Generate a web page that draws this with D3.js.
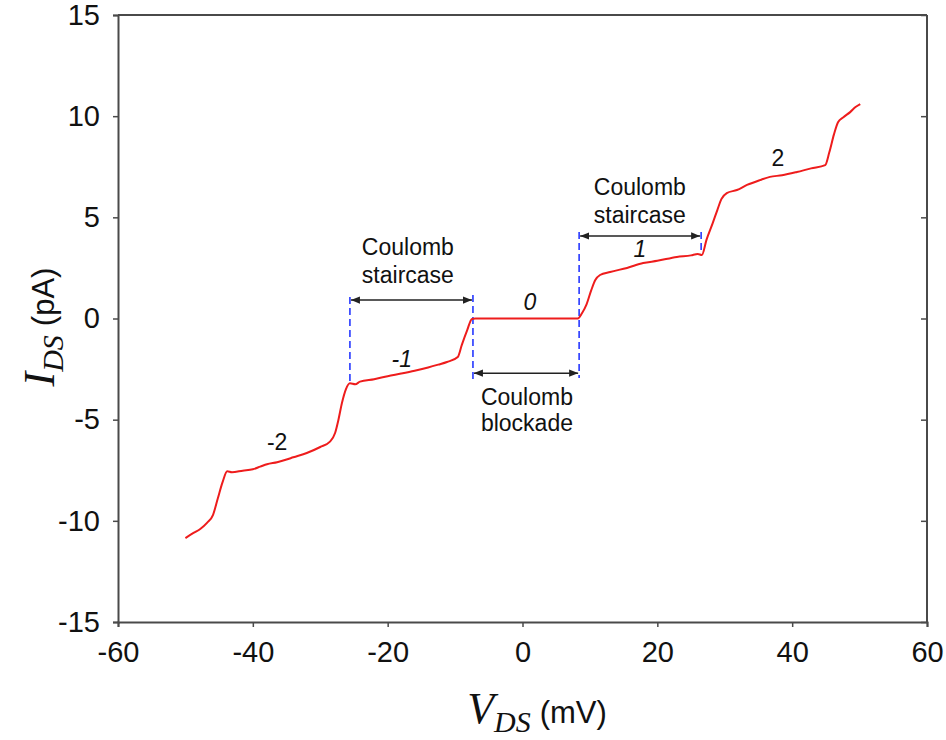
<!DOCTYPE html>
<html>
<head>
<meta charset="utf-8">
<script src="https://cdn.jsdelivr.net/npm/d3@7"></script>
<style>
  body { margin: 0; background: #fff; }
  text { font-family: "Liberation Sans", Arial, sans-serif; fill: #111; }
</style>
</head>
<body>
<div id="chart"></div>
<script>
// I-V curve of the Coulomb staircase
var vds = [-50.0, -48.8, -47.8, -46.8, -45.9, -45.2, -44.5, -43.8, -43.1, -41.5,
  -40.0, -38.9, -37.9, -36.4, -35.0, -34.0, -32.0, -30.0, -28.6, -27.8,
  -27.3, -26.8, -26.2, -25.6, -24.8, -24.1, -22.0, -20.0, -18.0, -16.0,
  -14.0, -12.5, -11.2, -9.6, -9.0, -8.2, -7.5, -7.0, 0.0, 8.2,
  8.8, 9.5, 10.2, 10.8, 11.5, 13.0, 15.5, 17.9, 20.0, 22.9,
  25.0, 26.0, 26.6, 27.3, 28.2, 28.9, 29.5, 30.3, 31.8, 33.3,
  35.2, 36.7, 38.5, 40.7, 42.8, 44.9, 45.5, 46.2, 46.8, 47.6,
  48.6, 49.4, 50.1];
var ids = [-10.85, -10.6, -10.4, -10.1, -9.7, -8.9, -8.1, -7.55, -7.6, -7.52,
  -7.45, -7.32, -7.2, -7.1, -6.97, -6.86, -6.65, -6.35, -6.1, -5.66,
  -5.0, -4.2, -3.5, -3.2, -3.25, -3.12, -3.0, -2.85, -2.72, -2.58,
  -2.42, -2.28, -2.15, -1.9, -1.3, -0.57, -0.02, 0.0, 0.0, 0.0,
  0.25, 0.7, 1.4, 1.9, 2.15, 2.3, 2.5, 2.74, 2.85, 3.04,
  3.12, 3.19, 3.14, 3.9, 4.7, 5.36, 5.9, 6.2, 6.35, 6.6,
  6.84, 7.0, 7.08, 7.24, 7.42, 7.58, 8.2, 9.1, 9.7, 9.95,
  10.2, 10.45, 10.6];

var xTicks = [-60, -40, -20, 0, 20, 40, 60];
var yTicks = [-15, -10, -5, 0, 5, 10, 15];

// dashed markers: x, y from, y to
var markX = [-25.6, -7.35, 8.4, 26.5];
var markY0 = [1.06, 1.16, 4.27, 4.27];
var markY1 = [-3.19, -3.0, -2.94, 3.14];

// double arrows: x from, x to, y
var arrowX0 = [-25.6, -7.35, 8.4];
var arrowX1 = [-7.35, 8.4, 26.5];
var arrowY = [0.91, -2.7, 4.08];

// text labels
var noteText = ["Coulomb", "staircase", "Coulomb", "blockade", "Coulomb", "staircase"];
var noteX = [-17.0, -17.0, 0.66, 0.66, 17.4, 17.4];
var noteY = [3.14, 1.75, -4.28, -5.56, 6.10, 4.72];

var stepText = ["-2", "-1", "0", "1", "2"];
var stepX = [-36.4, -17.9, 1.1, 17.4, 37.9];
var stepY = [-6.5, -2.4, 0.42, 3.04, 7.54];
var stepItalic = [false, true, true, true, false];

var W = 946, H = 740;
var margin = {top: 15, right: 19, bottom: 118, left: 118};
var width = W - margin.left - margin.right,
    height = H - margin.top - margin.bottom;

var svg = d3.select("#chart").append("svg")
  .attr("width", W)
  .attr("height", H);

var g = svg.append("g")
  .attr("transform", "translate(" + margin.left + "," + margin.top + ")");

var x = d3.scaleLinear().domain([-60, 60]).range([0, width]);
var y = d3.scaleLinear().domain([-15, 15]).range([height, 0]);

var axisColor = "#4a4a4a";
var plain = function(d) { return String(d); };

// axes
var xAxis = g.append("g")
  .attr("transform", "translate(0," + height + ")")
  .call(d3.axisBottom(x).tickValues(xTicks).tickSize(5).tickPadding(14).tickFormat(plain));
var yAxis = g.append("g")
  .call(d3.axisLeft(y).tickValues(yTicks).tickSize(5).tickPadding(13).tickFormat(plain));
var rAxis = g.append("g")
  .attr("transform", "translate(" + width + ",0)")
  .call(d3.axisLeft(y).tickValues(yTicks).tickSize(6).tickFormat(""));

[xAxis, yAxis, rAxis].forEach(function(a) {
  a.select(".domain").attr("stroke", axisColor).attr("stroke-width", 2);
  a.selectAll(".tick line").attr("stroke", axisColor).attr("stroke-width", 1.5);
  a.selectAll(".tick text")
    .style("font-family", "'Liberation Sans', Arial, sans-serif")
    .style("font-size", "29px")
    .attr("fill", "#111");
});
rAxis.select(".domain").attr("d", "M0,0V" + height);

g.append("line")
  .attr("x1", 0).attr("x2", width)
  .attr("y1", 0).attr("y2", 0)
  .attr("stroke", axisColor).attr("stroke-width", 2);

// arrow marker
var defs = svg.append("defs");
defs.append("marker")
  .attr("id", "arr")
  .attr("viewBox", "0 0 10 10")
  .attr("refX", 10).attr("refY", 5)
  .attr("markerWidth", 9).attr("markerHeight", 9)
  .attr("markerUnits", "userSpaceOnUse")
  .attr("orient", "auto-start-reverse")
  .append("path")
  .attr("d", "M0,1L10,5L0,9Z")
  .attr("fill", "#222");

// dashed markers
g.selectAll(".mark")
  .data(markX)
  .enter().append("line")
  .attr("class", "mark")
  .attr("x1", function(d) { return x(d); })
  .attr("x2", function(d) { return x(d); })
  .attr("y1", function(d, i) { return y(markY0[i]); })
  .attr("y2", function(d, i) { return y(markY1[i]); })
  .attr("stroke", "#3344ff")
  .attr("stroke-width", 1.7)
  .attr("stroke-dasharray", "7,4");

// arrows
g.selectAll(".arrow")
  .data(arrowY)
  .enter().append("line")
  .attr("class", "arrow")
  .attr("x1", function(d, i) { return x(arrowX0[i]) + 1; })
  .attr("x2", function(d, i) { return x(arrowX1[i]) - 1; })
  .attr("y1", function(d) { return y(d); })
  .attr("y2", function(d) { return y(d); })
  .attr("stroke", "#222")
  .attr("stroke-width", 1.5)
  .attr("marker-start", "url(#arr)")
  .attr("marker-end", "url(#arr)");

// curve
var pts = vds.map(function(v, i) { return [v, ids[i]]; });
g.append("path")
  .datum(pts)
  .attr("fill", "none")
  .attr("stroke", "#ee1c1c")
  .attr("stroke-width", 2)
  .attr("stroke-linejoin", "round")
  .attr("d", d3.line()
    .x(function(d) { return x(d[0]); })
    .y(function(d) { return y(d[1]); })
    .curve(d3.curveMonotoneX));

// notes
g.selectAll(".note")
  .data(noteText)
  .enter().append("text")
  .attr("class", "note")
  .attr("x", function(d, i) { return x(noteX[i]); })
  .attr("y", function(d, i) { return y(noteY[i]); })
  .attr("text-anchor", "middle")
  .style("font-size", "23px")
  .text(function(d) { return d; });

g.selectAll(".step")
  .data(stepText)
  .enter().append("text")
  .attr("class", "step")
  .attr("x", function(d, i) { return x(stepX[i]); })
  .attr("y", function(d, i) { return y(stepY[i]); })
  .attr("text-anchor", "middle")
  .style("font-size", "23px")
  .style("font-style", function(d, i) { return stepItalic[i] ? "italic" : "normal"; })
  .text(function(d) { return d; });

// axis titles
var xt = svg.append("text")
  .attr("x", 537)
  .attr("y", 723)
  .attr("text-anchor", "middle");
xt.append("tspan")
  .style("font-family", "'Liberation Serif', 'Times New Roman', serif")
  .style("font-style", "italic")
  .style("font-size", "44px")
  .text("V");
xt.append("tspan")
  .attr("dy", 9)
  .style("font-family", "'Liberation Serif', 'Times New Roman', serif")
  .style("font-style", "italic")
  .style("font-size", "30px")
  .text("DS");
xt.append("tspan")
  .attr("dy", -9)
  .attr("dx", 9)
  .style("font-size", "31px")
  .text("(mV)");

var yt = svg.append("text")
  .attr("transform", "translate(54,327) rotate(-90)")
  .attr("text-anchor", "middle");
yt.append("tspan")
  .style("font-family", "'Liberation Serif', 'Times New Roman', serif")
  .style("font-style", "italic")
  .style("font-size", "44px")
  .text("I");
yt.append("tspan")
  .attr("dy", 9)
  .style("font-family", "'Liberation Serif', 'Times New Roman', serif")
  .style("font-style", "italic")
  .style("font-size", "30px")
  .text("DS");
yt.append("tspan")
  .attr("dy", -9)
  .attr("dx", 9)
  .style("font-size", "31px")
  .text("(pA)");
</script>
</body>
</html>
